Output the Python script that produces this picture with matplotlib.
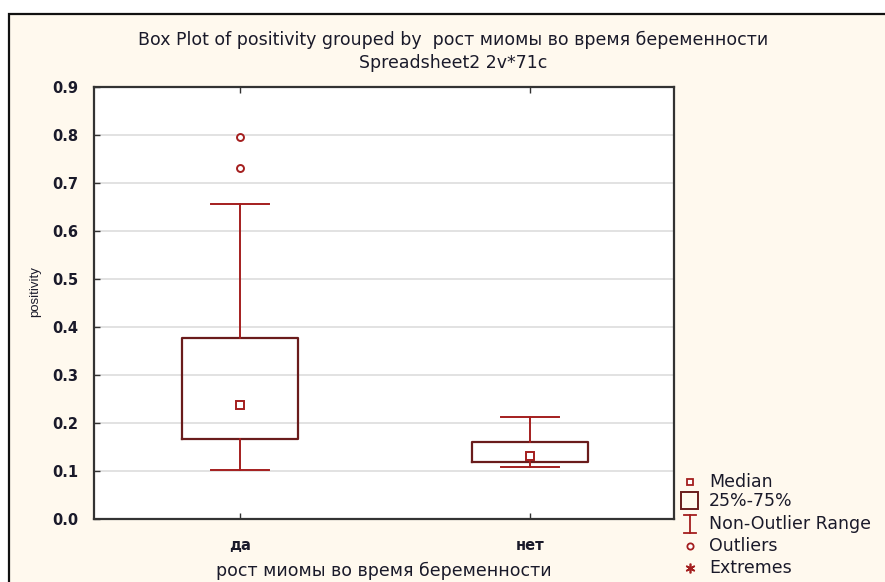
import matplotlib
matplotlib.use("Agg")
import matplotlib.pyplot as plt
from matplotlib.lines import Line2D
from matplotlib.patches import Rectangle

plt.rcParams['font.family'] = ['DejaVu Sans']

categories = ["да", "нет"]
q1 = [0.167, 0.119]
median = [0.2375, 0.131]
q3 = [0.377, 0.160]
whislo = [0.102, 0.108]
whishi = [0.656, 0.2125]
outliers = [[0.796, 0.731], []]
yticks = [0.0, 0.1, 0.2, 0.3, 0.4, 0.5, 0.6, 0.7, 0.8, 0.9]

W, H = 885, 582
fig = plt.figure(figsize=(W / 100, H / 100), dpi=100)
fig.patch.set_facecolor("white")

cream = "#FFF9EE"
fig.add_artist(Rectangle((9 / W, -0.1), 1, 1.1 - 14 / H, transform=fig.transFigure,
                         facecolor=cream, edgecolor="#111111", linewidth=1.6, zorder=-10))

ax = fig.add_axes([94 / W, (H - 519) / H, 580 / W, 432 / H])
ax.set_facecolor("white")

box_edge = "#6A1C1C"
red = "#A41E1E"
txt = "#1A1A2A"

stats = []
for i, c in enumerate(categories):
    stats.append(dict(label=c, q1=q1[i], med=median[i], q3=q3[i],
                      whislo=whislo[i], whishi=whishi[i], fliers=outliers[i]))
pos = [1, 2]
ax.bxp(stats, positions=pos, widths=0.4, capwidths=0.2, showfliers=False,
       boxprops=dict(color=box_edge, linewidth=1.6),
       whiskerprops=dict(color=red, linewidth=1.4),
       capprops=dict(color=red, linewidth=1.4),
       medianprops=dict(linestyle="none"), zorder=3)
ax.plot(pos, median, linestyle="none", marker="s", markersize=6,
        markerfacecolor="white", markeredgecolor=red, markeredgewidth=1.4, zorder=4)
for i, fl in enumerate(outliers):
    if fl:
        ax.plot([pos[i]] * len(fl), fl, linestyle="none", marker="o", markersize=5,
                markerfacecolor="white", markeredgecolor=red, markeredgewidth=1.4, zorder=4)

ax.set_xlim(0.497, 2.497)
ax.set_ylim(0, 0.9)
ax.set_yticks(yticks)
ax.set_yticklabels([f"{v:.1f}" for v in yticks], fontweight="bold")
ax.set_xticks(pos)
ax.set_xticklabels(categories, fontweight="bold")
ax.yaxis.grid(True, color="#DDDDDD", linewidth=1.2, zorder=0)
ax.set_axisbelow(True)
ax.tick_params(axis="both", direction="in", length=4, width=1, color="#333333",
               labelsize=10.5, labelcolor=txt)
ax.tick_params(axis="x", top=True, pad=14)
ax.tick_params(axis="y", pad=11)
for s in ax.spines.values():
    s.set_color("#333333")
    s.set_linewidth(1.6)

ax.set_ylabel("positivity", fontsize=9.5, color=txt, family=["Liberation Sans", "DejaVu Sans"],
              va="center")
ax.yaxis.set_label_coords((35 - 94) / 580, (519 - 292) / 432)
ax.set_xlabel("рост миомы во время беременности", fontsize=12.5, color=txt, va="center")
ax.xaxis.set_label_coords(0.5, -(571 - 519) / 432)

fig.text(453 / W, 1 - 40 / H,
         "Box Plot of positivity grouped by  рост миомы во время беременности",
         ha="center", va="center", fontsize=12.5, color=txt)
fig.text(453 / W, 1 - 63 / H, "Spreadsheet2 2v*71c",
         ha="center", va="center", fontsize=12.5, color=txt)

# legend
lx = 690 / W
tx = 709 / W
items = [(482, "Median"), (501, "25%-75%"), (524, "Non-Outlier Range"),
         (546, "Outliers"), (568, "Extremes")]
for yy, label in items:
    fig.text(tx, 1 - yy / H, label, ha="left", va="center", fontsize=12.5, color=txt)
fig.add_artist(Line2D([lx], [1 - 482 / H], marker="s", markersize=5, markerfacecolor="white",
                      markeredgecolor=red, markeredgewidth=1.3, linestyle="none",
                      transform=fig.transFigure))
fig.add_artist(Rectangle((681 / W, 1 - 509 / H), 17 / W, 17 / H, transform=fig.transFigure,
                         facecolor="none", edgecolor=box_edge, linewidth=1.4))
fig.add_artist(Line2D([lx, lx], [1 - 515 / H, 1 - 533 / H], color=red, linewidth=1.3,
                      transform=fig.transFigure))
fig.add_artist(Line2D([684 / W, 696 / W], [1 - 515 / H, 1 - 515 / H], color=red, linewidth=1.3,
                      transform=fig.transFigure))
fig.add_artist(Line2D([684 / W, 696 / W], [1 - 533 / H, 1 - 533 / H], color=red, linewidth=1.3,
                      transform=fig.transFigure))
fig.add_artist(Line2D([lx], [1 - 546 / H], marker="o", markersize=4.5, markerfacecolor="white",
                      markeredgecolor=red, markeredgewidth=1.3, linestyle="none",
                      transform=fig.transFigure))
fig.add_artist(Line2D([lx], [1 - 568 / H], marker=(6, 2, 0), markersize=7, color=red,
                      markeredgewidth=1.2, linestyle="none", transform=fig.transFigure))

fig.savefig("out.png", dpi=100, facecolor=fig.get_facecolor())
